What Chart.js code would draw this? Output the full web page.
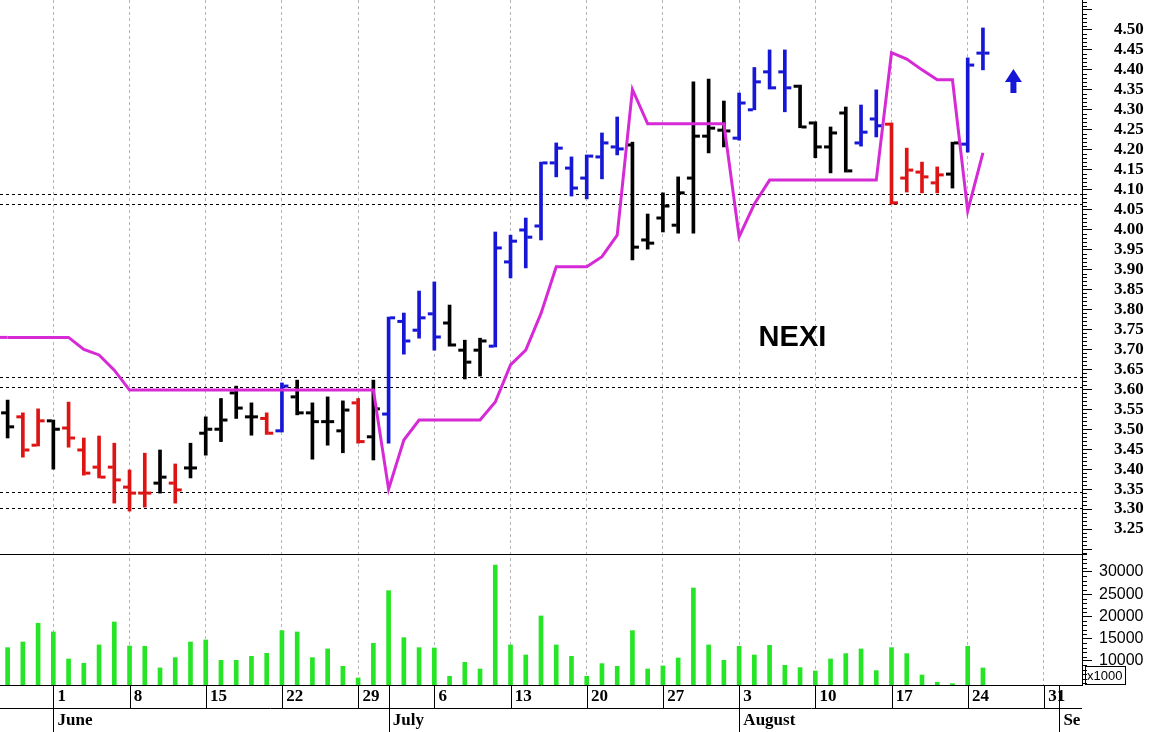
<!DOCTYPE html>
<html>
<head>
<meta charset="utf-8">
<title>NEXI</title>
<script src="https://cdn.jsdelivr.net/npm/chart.js@4.4.1/dist/chart.umd.min.js"></script>
<style>
  html, body { margin: 0; padding: 0; background: #fff; }
  canvas { display: block; }
</style>
</head>
<body>
<canvas id="grafico" width="1153" height="732"></canvas>
<script>
// trading days (the last six are empty room on the right)
const dates = [
  '2020-05-27', '2020-05-28', '2020-05-29',
  '2020-06-01', '2020-06-02', '2020-06-03', '2020-06-04', '2020-06-05',
  '2020-06-08', '2020-06-09', '2020-06-10', '2020-06-11', '2020-06-12',
  '2020-06-15', '2020-06-16', '2020-06-17', '2020-06-18', '2020-06-19',
  '2020-06-22', '2020-06-23', '2020-06-24', '2020-06-25', '2020-06-26',
  '2020-06-29', '2020-06-30', '2020-07-01', '2020-07-02', '2020-07-03',
  '2020-07-06', '2020-07-07', '2020-07-08', '2020-07-09', '2020-07-10',
  '2020-07-13', '2020-07-14', '2020-07-15', '2020-07-16', '2020-07-17',
  '2020-07-20', '2020-07-21', '2020-07-22', '2020-07-23', '2020-07-24',
  '2020-07-27', '2020-07-28', '2020-07-29', '2020-07-30', '2020-07-31',
  '2020-08-03', '2020-08-04', '2020-08-05', '2020-08-06', '2020-08-07',
  '2020-08-10', '2020-08-11', '2020-08-12', '2020-08-13', '2020-08-14',
  '2020-08-17', '2020-08-18', '2020-08-19', '2020-08-20', '2020-08-21',
  '2020-08-24', '2020-08-25', '2020-08-26', '2020-08-27', '2020-08-28',
  '2020-08-31', '2020-09-01', '2020-09-02'
];
const monthLabels = ['June', 'July', 'August', 'Se'];
const volTicks = [10000, 15000, 20000, 25000, 30000];

const opens = [
  3.541, 3.531, 3.460, 3.521, 3.503, 3.448, 3.405, 3.405, 3.355, 3.340,
  3.365, 3.365, 3.403, 3.490, 3.500, 3.591, 3.531, 3.527, 3.496, 3.581,
  3.541, 3.519, 3.496, 3.566, 3.481, 3.538, 3.770, 3.748, 3.789, 3.766,
  3.698, 3.698, 3.708, 3.919, 3.999, 4.009, 4.167, 4.154, 4.129, 4.182,
  4.207, 4.212, 3.974, 4.029, 4.011, 4.129, 4.234, 4.249, 4.229, 4.300,
  4.395, 4.395, 4.359, 4.267, 4.207, 4.292, 4.217, 4.277, 4.264, 4.129,
  4.144, 4.117, 4.139, 4.214, 4.442
];
const highs = [
  3.573, 3.541, 3.551, 3.523, 3.568, 3.478, 3.483, 3.465, 3.398, 3.440,
  3.448, 3.413, 3.465, 3.531, 3.577, 3.608, 3.566, 3.541, 3.616, 3.623,
  3.566, 3.581, 3.571, 3.577, 3.623, 3.781, 3.791, 3.846, 3.869, 3.811,
  3.723, 3.728, 3.994, 3.986, 4.029, 4.169, 4.217, 4.182, 4.187, 4.242,
  4.282, 4.219, 4.039, 4.092, 4.132, 4.370, 4.377, 4.322, 4.342, 4.406,
  4.450, 4.450, 4.362, 4.270, 4.257, 4.307, 4.312, 4.350, 4.267, 4.204,
  4.169, 4.157, 4.219, 4.430, 4.505
];
const lows = [
  3.478, 3.430, 3.458, 3.400, 3.455, 3.385, 3.378, 3.315, 3.295, 3.305,
  3.340, 3.315, 3.378, 3.435, 3.469, 3.527, 3.485, 3.487, 3.493, 3.536,
  3.425, 3.460, 3.441, 3.465, 3.423, 3.465, 3.688, 3.728, 3.698, 3.708,
  3.626, 3.633, 3.706, 3.879, 3.904, 3.974, 4.132, 4.084, 4.077, 4.127,
  4.187, 3.924, 3.951, 3.994, 3.991, 3.991, 4.192, 4.207, 4.224, 4.300,
  4.352, 4.295, 4.255, 4.180, 4.142, 4.144, 4.209, 4.232, 4.064, 4.094,
  4.092, 4.092, 4.104, 4.194, 4.400
];
const closes = [
  3.506, 3.448, 3.521, 3.500, 3.478, 3.390, 3.380, 3.373, 3.340, 3.340,
  3.380, 3.348, 3.403, 3.500, 3.523, 3.553, 3.531, 3.490, 3.608, 3.541,
  3.519, 3.519, 3.548, 3.469, 3.551, 3.779, 3.721, 3.779, 3.731, 3.711,
  3.668, 3.721, 3.954, 3.971, 3.981, 4.167, 4.204, 4.104, 4.184, 4.217,
  4.202, 3.956, 3.966, 4.059, 4.092, 4.234, 4.254, 4.247, 4.317, 4.370,
  4.355, 4.355, 4.257, 4.207, 4.242, 4.147, 4.244, 4.260, 4.067, 4.149,
  4.132, 4.137, 4.217, 4.412, 4.442
];
// trend state of each bar: 1 up, -1 down, 0 neutral
const signal = [
  0, -1, -1, 0, -1, -1, -1, -1, -1, -1,
  0, -1, 0, 0, 0, 0, 0, -1, 1, 0,
  0, 0, 0, -1, 0, 1, 1, 1, 1, 0,
  0, 0, 1, 1, 1, 1, 1, 1, 1, 1,
  1, 0, 0, 0, 0, 0, 0, 0, 1, 1,
  1, 1, 0, 0, 0, 0, 1, 1, -1, -1,
  -1, -1, 0, 1, 1
];
const stopLine = [
  3.730, 3.730, 3.730, 3.730, 3.730, 3.700, 3.686, 3.648, 3.598, 3.598,
  3.598, 3.598, 3.598, 3.598, 3.598, 3.598, 3.598, 3.598, 3.598, 3.598,
  3.598, 3.598, 3.598, 3.598, 3.598, 3.350, 3.473, 3.523, 3.523, 3.523,
  3.523, 3.523, 3.568, 3.661, 3.698, 3.790, 3.907, 3.907, 3.907, 3.932,
  3.986, 4.351, 4.265, 4.265, 4.265, 4.265, 4.265, 4.265, 3.982, 4.064,
  4.124, 4.124, 4.124, 4.124, 4.124, 4.124, 4.124, 4.124, 4.443, 4.427,
  4.400, 4.375, 4.375, 4.047, 4.192
];
const volume = [
  12990, 14270, 18470, 16520, 10450, 9480, 13600, 18760, 13370, 13300,
  8430, 10750, 14270, 14720, 10150, 10150, 11050, 11720, 16820, 16520,
  10750, 12700, 8800, 6180, 13970, 25800, 15240, 12990, 12920, 6560,
  9700, 8200, 31570, 13600, 11350, 20110, 13600, 11050, 6560, 9400,
  8800, 16820, 8200, 8880, 10670, 26400, 13600, 10150, 13300, 11350,
  13520, 9030, 8500, 7750, 10450, 11650, 12700, 7830, 12990, 11650,
  6850, 5210, 4900, 13300, 8430
];
// dotted support / resistance levels
const levels = [4.089, 4.063, 3.630, 3.605, 3.342, 3.303];

const SERIF = "'Liberation Serif', 'Times New Roman', serif";
const SANS = "'Liberation Sans', Arial, sans-serif";
const COLORS = { '1': '#1616d6', '-1': '#de1414', '0': '#000000' };
const MAGENTA = '#d62ad6';

const mondays = dates.map(d => new Date(d + 'T00:00:00Z').getUTCDay() === 1);
const monthStarts = [];
dates.forEach((d, i) => {
  if (i > 0 && d.slice(5, 7) !== dates[i - 1].slice(5, 7)) monthStarts.push(i);
});

function etiquetaX(i) {
  const dia = mondays[i] ? ' ' + Number(dates[i].slice(8)) : '';
  const m = monthStarts.indexOf(i);
  return m >= 0 ? [dia, ' ' + monthLabels[m]] : dia;
}

function fijarEje(ancho) {
  return s => {
    s.width = ancho;
    s.paddingTop = 0;
    s.paddingBottom = 0;
  };
}

const decorado = {
  id: 'decorado',
  beforeDatasetsDraw(chart) {
    const { ctx, chartArea: a, scales: { y, yv } } = chart;
    ctx.save();
    ctx.strokeStyle = '#000';
    ctx.lineWidth = 1;
    ctx.setLineDash([3, 3]);
    levels.forEach(v => {
      const py = Math.round(y.getPixelForValue(v)) + 0.5;
      ctx.beginPath();
      ctx.moveTo(a.left, py);
      ctx.lineTo(a.right, py);
      ctx.stroke();
    });
    ctx.setLineDash([]);
    const sep = Math.round(yv.top) + 0.5;
    ctx.beginPath();
    ctx.moveTo(a.left, sep);
    ctx.lineTo(a.right, sep);
    ctx.stroke();
    ctx.restore();
  },
  afterDatasetDraw(chart, args) {
    const { ctx, chartArea: a, scales: { y } } = chart;
    ctx.save();
    if (args.index === 0) {
      // the stop line comes in from the left edge
      const p = chart.getDatasetMeta(0).data[0];
      ctx.strokeStyle = MAGENTA;
      ctx.lineWidth = 3;
      ctx.beginPath();
      ctx.moveTo(a.left, p.y);
      ctx.lineTo(p.x, p.y);
      ctx.stroke();
    } else if (args.index === 1) {
      chart.getDatasetMeta(1).data.forEach((bar, i) => {
        ctx.fillStyle = COLORS[signal[i]];
        ctx.fillRect(bar.x - 6.5, y.getPixelForValue(opens[i]) - 1.5, 5, 3);
        ctx.fillRect(bar.x + 1.5, y.getPixelForValue(closes[i]) - 1.5, 5, 3);
      });
    }
    ctx.restore();
  },
  afterDraw(chart) {
    const { ctx, chartArea: a, scales: { x, y, yv } } = chart;
    ctx.save();
    ctx.strokeStyle = '#000';
    ctx.lineWidth = 1;

    // minor ticks on the right axes
    ctx.beginPath();
    for (let c = 319; c <= 457; c++) {
      if (c % 5 === 0) continue;
      const py = Math.round(y.getPixelForValue(c / 100)) + 0.5;
      ctx.moveTo(y.left, py);
      ctx.lineTo(y.left + 5, py);
    }
    for (let v = 5000; v <= 34000; v += 1000) {
      if (volTicks.includes(v)) continue;
      const py = Math.round(yv.getPixelForValue(v)) + 0.5;
      ctx.moveTo(yv.left, py);
      ctx.lineTo(yv.left + 5, py);
    }
    ctx.stroke();

    // date band under the volume panel
    const fila = Math.round(x.top + 23) + 0.5;
    ctx.beginPath();
    ctx.moveTo(a.left, fila);
    ctx.lineTo(a.right, fila);
    dates.forEach((d, i) => {
      const px = Math.round(x.getPixelForValue(i)) + 0.5;
      if (monthStarts.includes(i)) {
        ctx.moveTo(px, x.top);
        ctx.lineTo(px, chart.height);
      } else if (mondays[i]) {
        ctx.moveTo(px, x.top);
        ctx.lineTo(px, fila);
      }
    });
    ctx.stroke();

    // x1000 box
    ctx.strokeRect(Math.round(yv.left) + 3.5, Math.round(yv.bottom) - 18.5, 40, 18);
    ctx.fillStyle = '#000';
    ctx.font = '13px ' + SANS;
    ctx.textBaseline = 'middle';
    ctx.textAlign = 'left';
    ctx.fillText('x1000', yv.left + 5, yv.bottom - 9);

    // title
    ctx.font = 'bold 29px ' + SANS;
    ctx.textAlign = 'center';
    ctx.fillText('NEXI', x.getPixelForValue(51.5), y.getPixelForValue(3.728));

    // blue up arrow
    const ax = x.getPixelForValue(66);
    const ay = y.getPixelForValue(4.402);
    ctx.fillStyle = COLORS['1'];
    ctx.beginPath();
    ctx.moveTo(ax, ay);
    ctx.lineTo(ax + 8.5, ay + 13);
    ctx.lineTo(ax + 3, ay + 13);
    ctx.lineTo(ax + 3, ay + 24);
    ctx.lineTo(ax - 3, ay + 24);
    ctx.lineTo(ax - 3, ay + 13);
    ctx.lineTo(ax - 8.5, ay + 13);
    ctx.closePath();
    ctx.fill();
    ctx.restore();
  }
};

new Chart(document.getElementById('grafico'), {
  type: 'bar',
  data: {
    labels: dates,
    datasets: [
      {
        type: 'line',
        data: stopLine,
        yAxisID: 'y',
        borderColor: MAGENTA,
        borderWidth: 3,
        pointRadius: 0,
        tension: 0,
        order: 0
      },
      {
        data: lows.map((l, i) => [l, highs[i]]),
        yAxisID: 'y',
        backgroundColor: signal.map(s => COLORS[s]),
        barThickness: 3,
        grouped: false,
        order: 1
      },
      {
        data: volume,
        yAxisID: 'yv',
        backgroundColor: '#26e426',
        barThickness: 4,
        grouped: false,
        order: 2
      }
    ]
  },
  options: {
    responsive: false,
    animation: false,
    layout: { padding: 0 },
    plugins: {
      legend: { display: false },
      tooltip: { enabled: false }
    },
    scales: {
      x: {
        type: 'category',
        offset: true,
        grid: {
          offset: false,
          drawTicks: false,
          lineWidth: 1,
          color: c => mondays[c.index] ? '#b4b4b4' : 'rgba(0,0,0,0)'
        },
        border: { color: '#000', width: 1, dash: [3, 3] },
        ticks: {
          autoSkip: false,
          maxRotation: 0,
          minRotation: 0,
          align: 'start',
          padding: 0,
          color: '#000',
          font: { family: SERIF, size: 17, weight: 'bold', lineHeight: '24px' },
          callback: (v, i) => etiquetaX(i)
        },
        afterFit: s => {
          s.height = 47;
          s.paddingLeft = 0;
          s.paddingRight = 0;
        }
      },
      y: {
        position: 'right',
        stack: 'derecha',
        stackWeight: 554,
        weight: 1,
        min: 3.1875,
        max: 4.575,
        grid: { drawOnChartArea: false, tickLength: 10, tickColor: '#000', tickWidth: 1 },
        border: { color: '#000', width: 1 },
        ticks: {
          stepSize: 0.05,
          autoSkip: false,
          includeBounds: false,
          padding: 22,
          color: '#000',
          font: { family: SERIF, size: 17, weight: 'bold' },
          callback: v => (v > 3.249 && v < 4.501) ? v.toFixed(2) : ''
        },
        afterFit: fijarEje(71)
      },
      yv: {
        position: 'right',
        stack: 'derecha',
        stackWeight: 131,
        weight: 2,
        min: 4600,
        max: 34040,
        grid: { drawOnChartArea: false, tickLength: 10, tickColor: '#000', tickWidth: 1 },
        border: { color: '#000', width: 1 },
        afterBuildTicks: s => {
          s.ticks = volTicks.map(v => ({ value: v }));
        },
        ticks: {
          autoSkip: false,
          padding: 7,
          color: '#000',
          font: { family: SANS, size: 16 },
          callback: v => String(v)
        },
        afterFit: fijarEje(71)
      }
    }
  },
  plugins: [decorado]
});
</script>
</body>
</html>
